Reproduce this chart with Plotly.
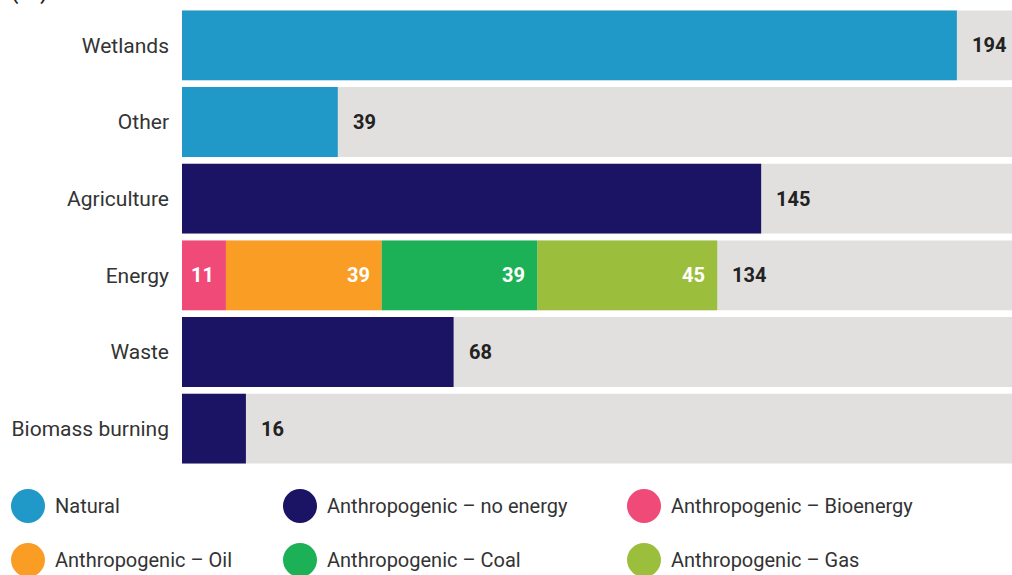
import numpy as np
import plotly.graph_objects as go

categories = ["Wetlands", "Other", "Agriculture", "Energy", "Waste", "Biomass burning"]
natural = [194, 39, None, None, None, None]
no_energy = [None, None, 145, None, 68, 16]
energy_parts = ["Anthropogenic – Bioenergy", "Anthropogenic – Oil", "Anthropogenic – Coal", "Anthropogenic – Gas"]
energy_values = [11, 39, 39, 45]
totals = [194, 39, 145, 134, 68, 16]
axis_max = 207.8

legend_labels = ["Natural", "Anthropogenic – no energy", "Anthropogenic – Bioenergy",
                 "Anthropogenic – Oil", "Anthropogenic – Coal", "Anthropogenic – Gas"]
colors = {"Natural": "#2099c9", "Anthropogenic – no energy": "#1b1464",
          "Anthropogenic – Bioenergy": "#f04a78", "Anthropogenic – Oil": "#f99d25",
          "Anthropogenic – Coal": "#1db157", "Anthropogenic – Gas": "#9bbf3c"}
gray = "#e1e0df"
font = "Roboto"
W = 0.91

fig = go.Figure()
fig.add_trace(go.Bar(y=categories, x=[axis_max] * len(categories), orientation="h",
                     marker=dict(color=gray, line=dict(width=0)), width=W,
                     showlegend=False, hoverinfo="skip"))
fig.add_trace(go.Bar(y=categories, x=natural, orientation="h", width=W,
                     marker=dict(color=colors["Natural"], line=dict(width=0)), showlegend=False))
fig.add_trace(go.Bar(y=categories, x=no_energy, orientation="h", width=W,
                     marker=dict(color=colors["Anthropogenic – no energy"], line=dict(width=0)),
                     showlegend=False))
bases = np.concatenate([[0], np.cumsum(energy_values)[:-1]])
for name, v, b in zip(energy_parts, energy_values, bases):
    fig.add_trace(go.Bar(y=["Energy"], x=[v], base=[b], orientation="h", width=W,
                         marker=dict(color=colors[name], line=dict(width=0)), showlegend=False))
    fig.add_annotation(x=b + v, y="Energy", text=f"<b>{v}</b>", showarrow=False,
                       xanchor="right", xshift=-10,
                       font=dict(family=font, size=20, color="white"))

for c, t in zip(categories, totals):
    fig.add_annotation(x=t, y=c, text=f"<b>{t}</b>", showarrow=False, xanchor="left",
                       xshift=13, font=dict(family=font, size=20, color="#222222"))

# legend (drawn manually in paper/pixel space)
plot_w = 1012 - 182
plot_h = 575 - 7 - 108
col_x = [28, 300, 644]
row_y = [506, 560]
for i, lab in enumerate(legend_labels):
    cx = col_x[i % 3]
    cy = row_y[i // 3]
    px = (cx - 182) / plot_w
    py = (575 - 108 - cy) / plot_h
    rx = 17 / plot_w
    ry = 17 / plot_h
    fig.add_shape(type="circle", xref="paper", yref="paper",
                  x0=px - rx, x1=px + rx, y0=py - ry, y1=py + ry,
                  fillcolor=colors[lab], line=dict(width=0))
    fig.add_annotation(xref="paper", yref="paper", x=(cx + 25 - 182) / plot_w, y=py,
                       text=lab, showarrow=False, xanchor="left", yanchor="middle",
                       font=dict(family=font, size=20, color="#333333"))

fig.add_annotation(xref="paper", yref="paper", x=0, y=1, xshift=-172, yshift=0,
                   xanchor="left", yanchor="bottom", text="<b>(Mt)</b>", showarrow=False,
                   font=dict(family=font, size=18, color="#222222"))

fig.update_layout(
    width=1012, height=575, barmode="overlay",
    margin=dict(l=182, r=0, t=7, b=108),
    paper_bgcolor="white", plot_bgcolor="white",
    xaxis=dict(range=[0, axis_max], visible=False, fixedrange=True),
    yaxis=dict(categoryorder="array", categoryarray=categories, autorange="reversed",
               showgrid=False, zeroline=False, showline=False, ticks="",
               ticklabelstandoff=12, fixedrange=True,
               tickfont=dict(family=font, size=21, color="#333333")),
    showlegend=False,
)
fig.write_html("out.html", config={"displayModeBar": False},
               post_script="document.body.style.margin='0';document.body.style.overflow='hidden';")
